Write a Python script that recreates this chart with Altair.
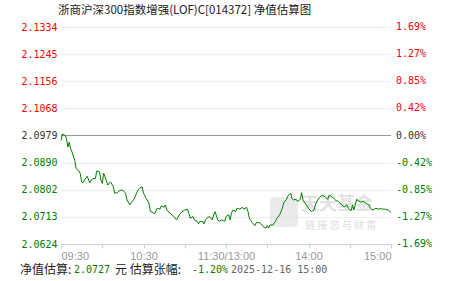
import altair as alt
import pandas as pd

# ---- data ----
minutes = [0, 1, 3, 4, 5, 6, 7, 8, 10, 11, 13, 14, 15, 16, 17, 19, 21, 22, 23, 25,
           26, 28, 29, 30, 31, 32, 34, 36, 38, 39, 41, 43, 45, 47, 48, 50, 51, 53, 55, 56,
           57, 59, 60, 62, 64, 65, 67, 68, 70, 72, 73, 75, 76, 77, 79, 80, 82, 84, 86, 87,
           88, 90, 92, 93, 94, 96, 97, 99, 100, 101, 103, 104, 105, 106, 108, 110, 111, 112, 114, 115,
           117, 119, 120, 122, 123, 124, 125, 127, 128, 130, 132, 133, 135, 136, 137, 139, 141, 142, 144, 145,
           147, 149, 150, 151, 152, 154, 156, 157, 159, 161, 162, 164, 165, 167, 168, 169, 171, 172, 174, 175,
           176, 178, 180, 182, 184, 185, 186, 188, 190, 192, 194, 195, 197, 199, 200, 202, 204, 206, 208, 209,
           211, 212, 213, 215, 216, 218, 220, 222, 224, 225, 227, 229, 231, 232, 234, 236, 238, 240]
navs = [2.0963, 2.0984, 2.0979, 2.0968, 2.0941, 2.0957, 2.0936, 2.0925, 2.0898, 2.0871,
        2.0863, 2.0855, 2.0827, 2.0824, 2.0833, 2.0846, 2.0824, 2.0833, 2.0838, 2.0838,
        2.0863, 2.0860, 2.0833, 2.0822, 2.0855, 2.0844, 2.0817, 2.0827, 2.0813, 2.0790,
        2.0792, 2.0800, 2.0800, 2.0790, 2.0768, 2.0752, 2.0759, 2.0770, 2.0790, 2.0800,
        2.0806, 2.0811, 2.0790, 2.0773, 2.0757, 2.0730, 2.0727, 2.0722, 2.0741, 2.0738,
        2.0749, 2.0744, 2.0752, 2.0735, 2.0725, 2.0722, 2.0714, 2.0703, 2.0719, 2.0725,
        2.0730, 2.0735, 2.0738, 2.0725, 2.0708, 2.0714, 2.0703, 2.0698, 2.0690, 2.0698,
        2.0698, 2.0690, 2.0703, 2.0708, 2.0714, 2.0703, 2.0719, 2.0730, 2.0703, 2.0698,
        2.0703, 2.0698, 2.0714, 2.0719, 2.0703, 2.0725, 2.0735, 2.0730, 2.0741, 2.0738,
        2.0744, 2.0738, 2.0744, 2.0730, 2.0708, 2.0694, 2.0684, 2.0694, 2.0694, 2.0692,
        2.0681, 2.0676, 2.0684, 2.0676, 2.0686, 2.0686, 2.0698, 2.0708, 2.0719, 2.0741,
        2.0759, 2.0770, 2.0781, 2.0790, 2.0773, 2.0768, 2.0770, 2.0763, 2.0770, 2.0792,
        2.0768, 2.0755, 2.0741, 2.0730, 2.0735, 2.0752, 2.0763, 2.0777, 2.0784, 2.0779,
        2.0770, 2.0784, 2.0779, 2.0770, 2.0766, 2.0763, 2.0752, 2.0746, 2.0752, 2.0741,
        2.0733, 2.0752, 2.0735, 2.0770, 2.0766, 2.0761, 2.0763, 2.0757, 2.0752, 2.0741,
        2.0735, 2.0741, 2.0738, 2.0740, 2.0738, 2.0738, 2.0735, 2.0727]

nav_ticks = [2.0624, 2.0713, 2.0802, 2.0890, 2.0979, 2.1068, 2.1156, 2.1245, 2.1334]
pct_labels = ["-1.69%", "-1.27%", "-0.85%", "-0.42%", "0.00%", "0.42%", "0.85%", "1.27%", "1.69%"]
base_nav = 2.0979

x_ticks = [0, 30, 60, 90, 120, 150, 180, 210, 240]
x_label_minutes = [0, 60, 120, 180, 240]
x_labels = ["09:30", "10:30", "11:30/13:00", "14:00", "15:00"]

title_text = "浙商沪深300指数增强(LOF)C[014372] 净值估算图"
footer_texts = ["净值估算:", "2.0727", "元 估算张幅:", "-1.20%", "2025-12-16 15:00"]
footer_colors = ["#222222", "#008000", "#222222", "#008000", "#666666"]
footer_fonts = ["Noto Sans CJK SC", "DejaVu Sans Mono", "Noto Sans CJK SC", "DejaVu Sans Mono", "DejaVu Sans Mono"]
footer_x = [20, 74, 115, 192, 231]

df = pd.DataFrame({"minute": minutes, "nav": navs})

W, H = 330, 217
PL, PT = 61, 27

RED, GREEN, DARK = "#ff0000", "#008000", "#333333"


def tick_color(v):
    return RED if v > base_nav + 1e-6 else (GREEN if v < base_nav - 1e-6 else DARK)


x_expr = " : ".join(f"datum.value == {m} ? '{l}'" for m, l in zip(x_label_minutes, x_labels)) + " : ''"
label_color = f"datum.value > {base_nav + 0.00003} ? '{RED}' : (datum.value < {base_nav - 0.00003} ? '{GREEN}' : '{DARK}')"

yscale = alt.Scale(domain=[nav_ticks[0], nav_ticks[-1]], nice=False, zero=False)
xscale = alt.Scale(domain=[0, 240], nice=False, zero=False)

left_axis = alt.Axis(values=nav_ticks, format=".4f", grid=True, gridColor="#dddddd",
                     gridDash=[1, 1], domain=False, ticks=False, labelPadding=4,
                     labelFont="DejaVu Sans Mono", labelFontSize=10,
                     labelColor={"expr": label_color}, labelOverlap=False)

x_axis = alt.Axis(values=x_ticks, labelExpr=x_expr, grid=False, domain=True,
                  domainColor="#c5d1dd", tickColor="#c5d1dd", tickSize=4,
                  labelColor="#999999", labelFont="Liberation Sans", labelFontSize=11,
                  labelPadding=2, labelOverlap=False)

zero = alt.Chart(pd.DataFrame({"y": [base_nav]})).mark_rule(color="#999999", strokeWidth=1).encode(
    y=alt.Y("y:Q", scale=yscale, axis=left_axis, title=None)
)

line = alt.Chart(df).mark_line(color=GREEN, strokeWidth=1).encode(
    x=alt.X("minute:Q", scale=xscale, title=None, axis=x_axis),
    y=alt.Y("nav:Q", scale=yscale, title=None, axis=left_axis),
)

right_df = pd.DataFrame({"nav": nav_ticks, "lab": pct_labels,
                         "col": [tick_color(v) for v in nav_ticks]})
right = alt.Chart(right_df).mark_text(
    align="left", baseline="middle", font="DejaVu Sans Mono", fontSize=10
).encode(
    x=alt.value(W + 5),
    y=alt.Y("nav:Q", scale=yscale, title=None, axis=left_axis),
    text="lab:N",
    color=alt.Color("col:N", scale=None),
)

title = alt.Chart(pd.DataFrame({"t": [title_text]})).mark_text(
    align="left", baseline="middle", font="Noto Sans CJK SC", fontSize=11.5, color="#222222"
).encode(text="t:N", x=alt.value(58 - PL), y=alt.value(11 - PT))

footer_layers = []
for t, c, f, px in zip(footer_texts, footer_colors, footer_fonts, footer_x):
    fs = 12 if f.startswith("Noto") else 10
    footer_layers.append(
        alt.Chart(pd.DataFrame({"t": [t]})).mark_text(
            align="left", baseline="middle", font=f, fontSize=fs, color=c
        ).encode(text="t:N", x=alt.value(px - PL), y=alt.value(270 - PT))
    )

wm_logo = alt.Chart(pd.DataFrame({"a": [1]})).mark_rect(
    color="#d8d8d8", opacity=0.55, cornerRadius=5
).encode(x=alt.value(270 - PL), x2=alt.value(298 - PL), y=alt.value(197 - PT), y2=alt.value(227 - PT))
wm1 = alt.Chart(pd.DataFrame({"t": ["天天基金"]})).mark_text(
    align="left", baseline="middle", font="Noto Sans CJK SC", fontSize=18, fontWeight="bold",
    color="#d0d0d0", opacity=0.6
).encode(text="t:N", x=alt.value(301 - PL), y=alt.value(205 - PT))
wm2 = alt.Chart(pd.DataFrame({"t": ["链 接 您 与 财 富"]})).mark_text(
    align="left", baseline="middle", font="Noto Sans CJK SC", fontSize=10,
    color="#d0d0d0", opacity=0.7
).encode(text="t:N", x=alt.value(305 - PL), y=alt.value(226 - PT))

chart = alt.layer(
    zero, wm_logo, wm1, wm2, line, right, title, *footer_layers
).properties(
    width=W, height=H,
    autosize=alt.AutoSizeParams(type="none"),
    padding={"left": PL, "top": PT, "right": 451 - PL - W, "bottom": 281 - PT - H},
    background="white",
).configure_view(stroke="transparent", strokeWidth=0, strokeOpacity=0)

chart.save("out.html", embed_options={"renderer": "svg", "actions": False})
